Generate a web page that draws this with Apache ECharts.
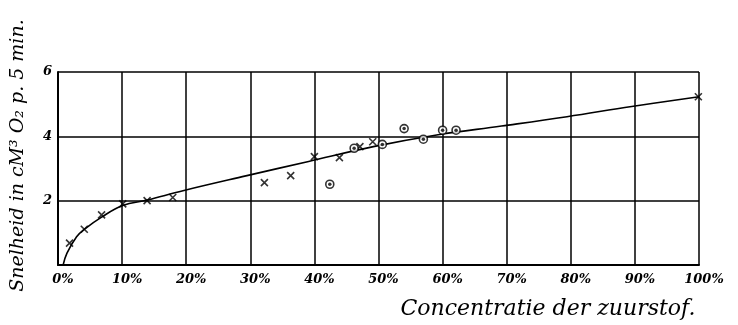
<!DOCTYPE html>
<html><head><meta charset="utf-8">
<script src="https://cdn.jsdelivr.net/npm/echarts@6/dist/echarts.min.js"></script>
<style>html,body{margin:0;padding:0;background:#fff}#c{width:738px;height:325px}</style>
</head><body><div id="c"></div>
<script>
// Concentration of oxygen (%) and rate (cM³ O₂ per 5 min)
const crossX = [1.8, 4.1, 6.8, 10.1, 13.9, 17.9, 32.2, 36.3, 40.0, 43.9, 47.1, 49.1, 99.9];
const crossY = [0.68, 1.11, 1.56, 1.90, 2.00, 2.10, 2.56, 2.78, 3.37, 3.34, 3.68, 3.83, 5.23];
const circleX = [42.4, 46.2, 50.6, 54.0, 57.0, 60.0, 62.1];
const circleY = [2.51, 3.63, 3.75, 4.24, 3.91, 4.19, 4.19];
const curveX = [0.8, 1.4, 2.9, 4.1, 6.8, 10.1, 13.9, 19.5, 29.3, 39.1, 49.2, 59.3, 69.2, 79.4, 89.5, 100];
const curveY = [0, 0.37, 0.88, 1.11, 1.49, 1.85, 2.02, 2.31, 2.77, 3.22, 3.68, 4.05, 4.32, 4.61, 4.93, 5.23];
const xTicks = [0, 10, 20, 30, 40, 50, 60, 70, 80, 90, 100];
const yTicks = [2, 4, 6];

const pair = (xs, ys) => xs.map((x, i) => [x, ys[i]]);
const FONT = 'DejaVu Serif';
const chart = echarts.init(document.getElementById('c'), null, {renderer: 'canvas'});
chart.setOption({
  animation: false,
  backgroundColor: '#fff',
  grid: {left: 58, right: 39, top: 72, bottom: 56},
  xAxis: {
    type: 'value', min: 0, max: 100, interval: 10,
    axisLine: {show: true, lineStyle: {color: '#000', width: 2}},
    axisTick: {show: false},
    splitLine: {show: true, lineStyle: {color: '#000', width: 1.5}},
    axisLabel: {
      color: '#000', fontFamily: FONT, fontStyle: 'italic', fontWeight: 'bold', fontSize: 13,
      margin: 8, padding: [0, 0, 0, 10],
      formatter: v => xTicks.includes(v) ? v + '%' : ''
    },
    name: 'Concentratie der zuurstof.',
    nameLocation: 'middle', nameGap: 33,
    nameTextStyle: {color: '#000', fontFamily: FONT, fontStyle: 'italic', fontSize: 22, align: 'left', padding: [0, 0, 0, 22]}
  },
  yAxis: {
    type: 'value', min: 0, max: 6, interval: 2,
    axisLine: {show: true, lineStyle: {color: '#000', width: 2}},
    axisTick: {show: false},
    splitLine: {show: true, lineStyle: {color: '#000', width: 1.5}},
    axisLabel: {
      color: '#000', fontFamily: FONT, fontStyle: 'italic', fontWeight: 'bold', fontSize: 13, margin: 6,
      formatter: v => yTicks.includes(v) ? String(v) : ''
    },
    name: 'Snelheid in cM³ O₂ p. 5 min.',
    nameLocation: 'middle', nameGap: 30,
    nameTextStyle: {color: '#000', fontFamily: FONT, fontStyle: 'italic', fontSize: 19, padding: [0, 0, 0, 26]}
  },
  series: [
    {
      type: 'line', data: pair(curveX, curveY), smooth: 0.4, showSymbol: false,
      lineStyle: {color: '#000', width: 1.6}, z: 3
    },
    {
      type: 'scatter', data: pair(crossX, crossY),
      symbol: 'path://M0,0L10,10M10,0L0,10', symbolSize: 7,
      itemStyle: {color: 'rgba(0,0,0,0)', borderColor: '#000', borderWidth: 1.6}, z: 4
    },
    {
      type: 'scatter', data: pair(circleX, circleY),
      symbol: 'circle', symbolSize: 8,
      itemStyle: {color: '#fff', borderColor: '#000', borderWidth: 1.6}, z: 4
    },
    {
      type: 'scatter', data: pair(circleX, circleY),
      symbol: 'circle', symbolSize: 3.5,
      itemStyle: {color: '#000'}, z: 5
    }
  ]
});
</script></body></html>
